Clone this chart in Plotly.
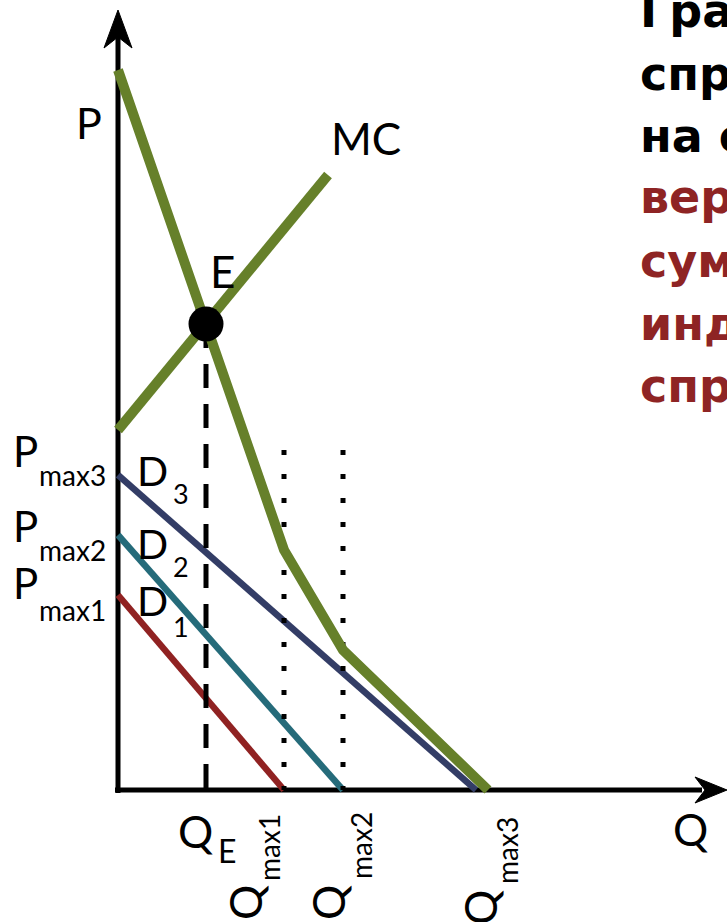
import plotly.graph_objects as go

# ---------------- data (Q = quantity, P = price, arbitrary units) ----------------
q_d1 = [0, 166]
p_d1 = [195, 0]
q_d2 = [0, 225]
p_d2 = [255, 0]
q_d3 = [0, 358]
p_d3 = [315, 0]

q_market = [0, 166, 225, 370]
p_market = [720, 240, 140, 0]

q_mc = [0, 210]
p_mc = [360, 615]

q_e, p_e = 88, 466
dotted_q = [166, 225]
dotted_top = 340

q_axis_end = 609
p_axis_end = 780

title_lines = ["График", "спроса", "на общественное", "вертикальное",
               "суммирование", "индивидуальных", "спросов"]
title_colors = ["#000000"] * 3 + ["#8e2424"] * 4

GREEN = "#66802a"
NAVY = "#333d66"
TEAL = "#256b7a"
RED = "#902222"
FONT = "Lato"

fig = go.Figure()

def line(x, y, color, width, dash=None):
    fig.add_trace(go.Scatter(x=x, y=y, mode="lines",
                             line=dict(color=color, width=width, dash=dash),
                             hoverinfo="skip", showlegend=False))

# axes
line([0, 0], [-3, p_axis_end - 25], "black", 5)
line([-3, q_axis_end - 25], [0, 0], "black", 5)
# arrow heads
fig.add_trace(go.Scatter(x=[0, -14, 0, 14, 0], y=[p_axis_end, p_axis_end - 38, p_axis_end - 27, p_axis_end - 38, p_axis_end],
                         mode="lines", fill="toself", fillcolor="black", line=dict(color="black", width=1),
                         hoverinfo="skip", showlegend=False))
fig.add_trace(go.Scatter(x=[q_axis_end, q_axis_end - 32, q_axis_end - 22, q_axis_end - 32, q_axis_end], y=[0, 13, 0, -13, 0],
                         mode="lines", fill="toself", fillcolor="black", line=dict(color="black", width=1),
                         hoverinfo="skip", showlegend=False))

# individual demands
line(q_d1, p_d1, RED, 6.5)
line(q_d2, p_d2, TEAL, 6.5)
line(q_d3, p_d3, NAVY, 6.5)

# Q_E dashed
line([q_e, q_e], [p_e, 0], "black", 5, dash="24px,16px")
# dotted verticals
for q in dotted_q:
    line([q, q], [dotted_top, 0], "black", 5, dash="5px,19px")

# MC and market demand
line(q_mc, p_mc, GREEN, 10)
line(q_market, p_market, GREEN, 10)

# equilibrium point
fig.add_trace(go.Scatter(x=[q_e], y=[p_e], mode="markers",
                         marker=dict(size=35, color="black"),
                         hoverinfo="skip", showlegend=False))

annotations = []

def ann(text, x, y, size, xanchor="center", angle=0, color="black", bold=False, family=FONT):
    t = f"<b>{text}</b>" if bold else text
    annotations.append(dict(text=t, x=x, y=y, xref="x", yref="y", showarrow=False,
                            xanchor=xanchor, yanchor="middle", textangle=angle,
                            font=dict(family=family, size=size, color=color)))

ann("P", -29, 668, 43)
ann("MC", 248, 652, 44)
ann("E", 104, 519, 44)

# P max labels
for p_main, p_sub, sub in [(339, 315, "max3"), (264, 240, "max2"), (207, 180, "max1")]:
    ann("P", -93, p_main, 42)
    ann(sub, -81, p_sub, 28, xanchor="left")

# D labels
for p_main, p_sub, sub in [(320, 297, "3"), (247, 224, "2"), (190, 164, "1")]:
    ann("D", 17, p_main, 41, xanchor="left")
    ann(sub, 53, p_sub, 27, xanchor="left")

# Q_E
ann("Q", 77, -41, 44)
ann("E", 98, -60, 32, xanchor="left")

# rotated Q max labels
for qx, qsub_x, py_main, py_sub, sub in [(127, 151, -113, -58, "max1"),
                                         (210, 243, -113, -56, "max2"),
                                         (362, 389, -118, -61, "max3")]:
    ann("Q", qx, py_main, 44, angle=-90)
    ann(sub, qsub_x, py_sub, 28, angle=-90)

ann("Q", 572, -39, 44)

# title text (cut off at the right edge, as in the original slide)
for txt, col, py in zip(title_lines, title_colors, [779, 716, 654, 593, 529, 466, 404]):
    ann(txt, 520, py, 46, xanchor="left", color=col, bold=True, family="DejaVu Sans")

fig.update_layout(
    width=727, height=922,
    margin=dict(l=0, r=0, t=0, b=0),
    paper_bgcolor="white", plot_bgcolor="white",
    xaxis=dict(range=[-118, 609], visible=False, fixedrange=True),
    yaxis=dict(range=[-132, 790], visible=False, fixedrange=True),
    annotations=annotations,
    showlegend=False,
)

fig.write_html("out.html", config={"displayModeBar": False},
               post_script="document.body.style.margin='0';")
